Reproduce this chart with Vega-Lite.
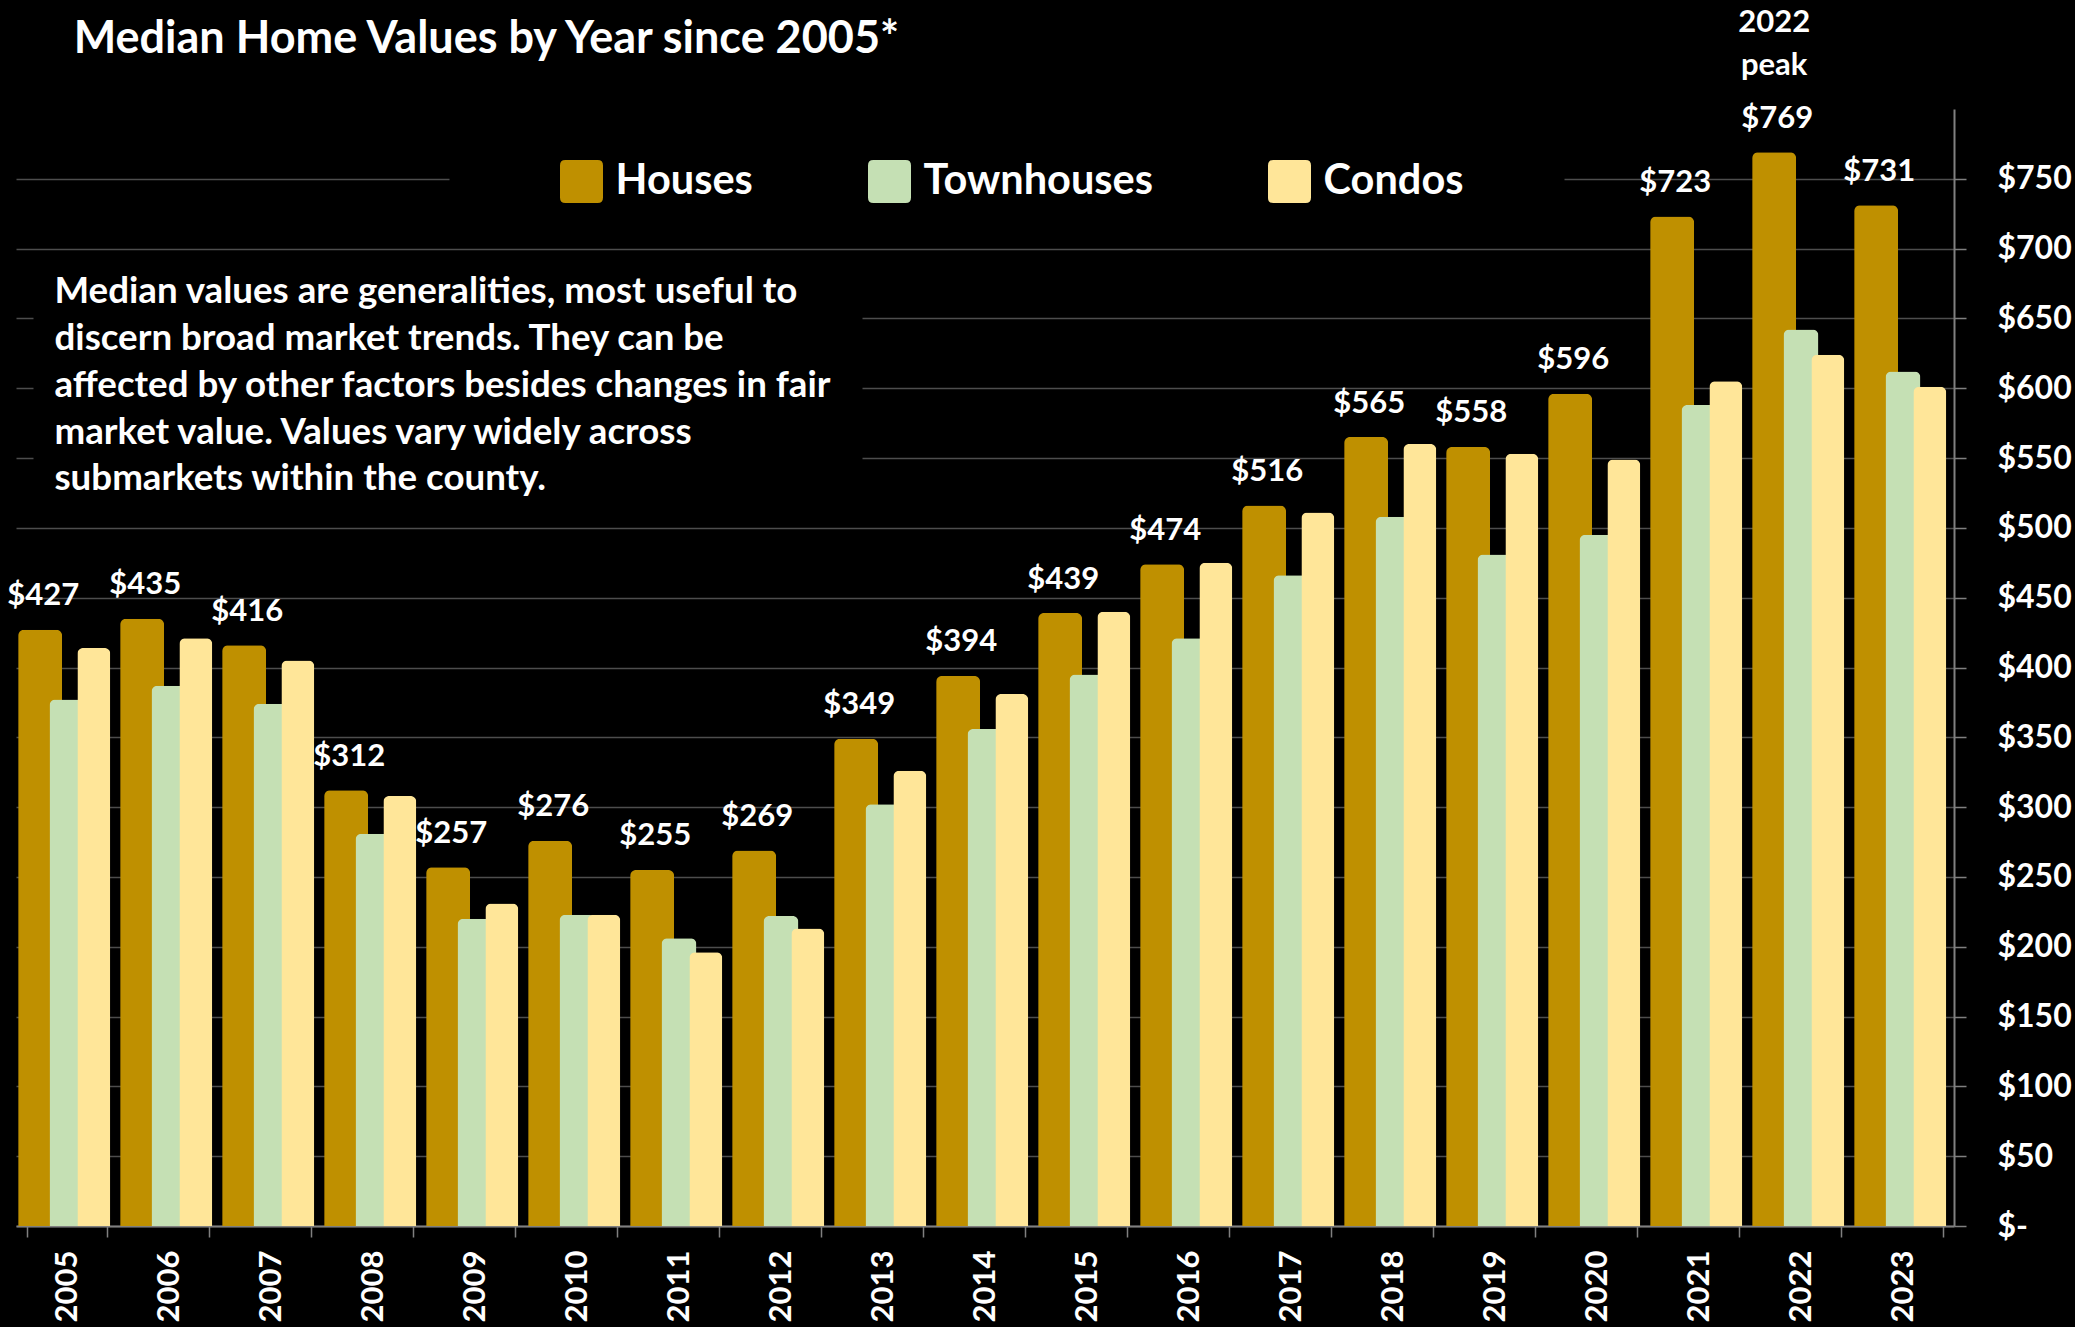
{
  "$schema": "https://vega.github.io/schema/vega-lite/v6.json",
  "background": "black",
  "autosize": {"type": "none"},
  "padding": {"left": 16, "top": 109, "right": 121, "bottom": 101},
  "width": 1938,
  "height": 1117,
  "title": {
    "text": "Median Home Values by Year since 2005*",
    "anchor": "start",
    "frame": "group",
    "dx": 57.7,
    "offset": -91.5,
    "baseline": "alphabetic",
    "font": "Lato",
    "fontSize": 45,
    "fontWeight": "bold",
    "color": "white"
  },
  "config": {
    "view": {"stroke": null},
    "text": {"font": "Lato"}
  },
  "data": {
    "values": [
      {"year": 2005, "type": "Houses", "value": 427},
      {"year": 2006, "type": "Houses", "value": 435},
      {"year": 2007, "type": "Houses", "value": 416},
      {"year": 2008, "type": "Houses", "value": 312},
      {"year": 2009, "type": "Houses", "value": 257},
      {"year": 2010, "type": "Houses", "value": 276},
      {"year": 2011, "type": "Houses", "value": 255},
      {"year": 2012, "type": "Houses", "value": 269},
      {"year": 2013, "type": "Houses", "value": 349},
      {"year": 2014, "type": "Houses", "value": 394},
      {"year": 2015, "type": "Houses", "value": 439},
      {"year": 2016, "type": "Houses", "value": 474},
      {"year": 2017, "type": "Houses", "value": 516},
      {"year": 2018, "type": "Houses", "value": 565},
      {"year": 2019, "type": "Houses", "value": 558},
      {"year": 2020, "type": "Houses", "value": 596},
      {"year": 2021, "type": "Houses", "value": 723},
      {"year": 2022, "type": "Houses", "value": 769},
      {"year": 2023, "type": "Houses", "value": 731},
      {"year": 2005, "type": "Townhouses", "value": 377},
      {"year": 2006, "type": "Townhouses", "value": 387},
      {"year": 2007, "type": "Townhouses", "value": 374},
      {"year": 2008, "type": "Townhouses", "value": 281},
      {"year": 2009, "type": "Townhouses", "value": 220},
      {"year": 2010, "type": "Townhouses", "value": 223},
      {"year": 2011, "type": "Townhouses", "value": 206},
      {"year": 2012, "type": "Townhouses", "value": 222},
      {"year": 2013, "type": "Townhouses", "value": 302},
      {"year": 2014, "type": "Townhouses", "value": 356},
      {"year": 2015, "type": "Townhouses", "value": 395},
      {"year": 2016, "type": "Townhouses", "value": 421},
      {"year": 2017, "type": "Townhouses", "value": 466},
      {"year": 2018, "type": "Townhouses", "value": 508},
      {"year": 2019, "type": "Townhouses", "value": 481},
      {"year": 2020, "type": "Townhouses", "value": 495},
      {"year": 2021, "type": "Townhouses", "value": 588},
      {"year": 2022, "type": "Townhouses", "value": 642},
      {"year": 2023, "type": "Townhouses", "value": 612},
      {"year": 2005, "type": "Condos", "value": 414},
      {"year": 2006, "type": "Condos", "value": 421},
      {"year": 2007, "type": "Condos", "value": 405},
      {"year": 2008, "type": "Condos", "value": 308},
      {"year": 2009, "type": "Condos", "value": 231},
      {"year": 2010, "type": "Condos", "value": 223},
      {"year": 2011, "type": "Condos", "value": 196},
      {"year": 2012, "type": "Condos", "value": 213},
      {"year": 2013, "type": "Condos", "value": 326},
      {"year": 2014, "type": "Condos", "value": 381},
      {"year": 2015, "type": "Condos", "value": 440},
      {"year": 2016, "type": "Condos", "value": 475},
      {"year": 2017, "type": "Condos", "value": 511},
      {"year": 2018, "type": "Condos", "value": 560},
      {"year": 2019, "type": "Condos", "value": 553},
      {"year": 2020, "type": "Condos", "value": 549},
      {"year": 2021, "type": "Condos", "value": 605},
      {"year": 2022, "type": "Condos", "value": 624},
      {"year": 2023, "type": "Condos", "value": 601}
    ]
  },
  "encoding": {
    "x": {
      "field": "year",
      "type": "ordinal",
      "scale": {"paddingInner": 0.21, "paddingOuter": 0.105},
      "axis": {
        "title": null,
        "labelAngle": 270,
        "labelAlign": "right",
        "labelBaseline": "middle",
        "labelFont": "Lato",
        "labelFontWeight": "bold",
        "labelFontSize": 31,
        "labelColor": "white",
        "labelPadding": 13,
        "tickBand": "extent",
        "tickSize": 11,
        "tickColor": "#808080",
        "tickWidth": 1.5,
        "domainColor": "#808080",
        "domainWidth": 2,
        "grid": false
      }
    },
    "y": {
      "field": "value",
      "type": "quantitative",
      "scale": {"domain": [0, 800], "nice": false},
      "axis": {
        "title": null,
        "orient": "right",
        "values": [0, 50, 100, 150, 200, 250, 300, 350, 400, 450, 500, 550, 600, 650, 700, 750],
        "labelExpr": "datum.value === 0 ? '$-' : '$' + datum.value",
        "labelFont": "Lato",
        "labelFontWeight": "bold",
        "labelFontSize": 32,
        "labelColor": "white",
        "labelAlign": "left",
        "labelBaseline": "middle",
        "labelPadding": 31,
        "tickSize": 12,
        "tickColor": "#808080",
        "tickWidth": 1.5,
        "domainColor": "#808080",
        "domainWidth": 2,
        "grid": true,
        "gridColor": "#4d4d4d",
        "gridWidth": 1.5,
        "gridDash": {
          "condition": [
            {"test": "datum.value >= 550 && datum.value <= 650", "value": [1092, 829, 300]},
            {"test": "datum.value === 750", "value": [390, 1115, 800]}
          ],
          "value": []
        }
      }
    }
  },
  "layer": [
    {
      "transform": [{"filter": "datum.type === 'Houses'"}],
      "mark": {"type": "bar", "width": 44, "cornerRadiusTopLeft": 6, "cornerRadiusTopRight": 6},
      "encoding": {
        "xOffset": {"field": "type", "scale": {"domain": ["Houses", "Townhouses", "Condos"], "paddingInner": 0, "paddingOuter": 0}},
        "color": {
          "field": "type",
          "type": "nominal",
          "scale": {"domain": ["Houses", "Townhouses", "Condos"], "range": ["#BF9000", "#C5E0B4", "#FFE699"]},
          "legend": {
            "title": null,
            "orient": "none",
            "legendX": 544,
            "legendY": 51,
            "direction": "horizontal",
            "padding": 0,
            "symbolType": "M-1,-0.75 Q-1,-1 -0.75,-1 L0.75,-1 Q1,-1 1,-0.75 L1,0.75 Q1,1 0.75,1 L-0.75,1 Q-1,1 -1,0.75 Z",
            "symbolSize": 1849,
            "symbolStrokeWidth": 0,
            "symbolOpacity": 1,
            "labelFont": "Lato",
            "labelFontWeight": "bold",
            "labelFontSize": 41.5,
            "labelColor": "white",
            "labelOffset": 12.6,
            "labelLimit": 0,
            "columnPadding": 115
          }
        }
      }
    },
    {
      "transform": [{"filter": "datum.type === 'Townhouses'"}],
      "mark": {"type": "bar", "width": 35, "cornerRadiusTopLeft": 6, "cornerRadiusTopRight": 6},
      "encoding": {
        "xOffset": {"field": "type", "scale": {"domain": ["Houses", "Townhouses", "Condos"], "paddingInner": 0, "paddingOuter": 0}},
        "color": {"field": "type", "type": "nominal"}
      }
    },
    {
      "transform": [{"filter": "datum.type === 'Condos'"}],
      "mark": {"type": "bar", "width": 33, "cornerRadiusTopLeft": 6, "cornerRadiusTopRight": 6},
      "encoding": {
        "xOffset": {"field": "type", "scale": {"domain": ["Houses", "Townhouses", "Condos"], "paddingInner": 0, "paddingOuter": 0}},
        "color": {"field": "type", "type": "nominal"}
      }
    },
    {
      "transform": [{"filter": "datum.type === 'Houses'"}],
      "mark": {"type": "text", "font": "Lato", "fontWeight": "bold", "fontSize": 31, "color": "white", "baseline": "alphabetic", "align": "center", "dx": 3, "dy": -24.5},
      "encoding": {
        "xOffset": {"field": "type", "scale": {"domain": ["Houses", "Townhouses", "Condos"], "paddingInner": 0, "paddingOuter": 0}},
        "text": {"field": "value", "type": "quantitative", "format": "$,.0f"}
      }
    },
    {
      "transform": [{"filter": "datum.type === 'Houses' && datum.year === 2022"}],
      "mark": {"type": "text", "text": ["2022", "peak"], "font": "Lato", "fontWeight": "bold", "fontSize": 31, "lineHeight": 42.7, "color": "white", "baseline": "alphabetic", "align": "center", "dx": 0, "dy": -120.3},
      "encoding": {
        "xOffset": {"field": "type", "scale": {"domain": ["Houses", "Townhouses", "Condos"], "paddingInner": 0, "paddingOuter": 0}}
      }
    },
    {
      "transform": [{"filter": "datum.type === 'Houses' && datum.year === 2005"}],
      "mark": {
        "type": "text",
        "text": [
          "Median values are generalities, most useful to",
          "discern broad market trends. They can be",
          "affected by other factors besides changes in fair",
          "market value. Values vary widely across",
          "submarkets within the county."
        ],
        "font": "Lato",
        "fontWeight": "bold",
        "fontSize": 36.7,
        "lineHeight": 46.85,
        "color": "white",
        "align": "left",
        "baseline": "alphabetic",
        "dx": -12.5,
        "dy": -15.4
      },
      "encoding": {
        "y": {"datum": 650}
      }
    }
  ]
}
